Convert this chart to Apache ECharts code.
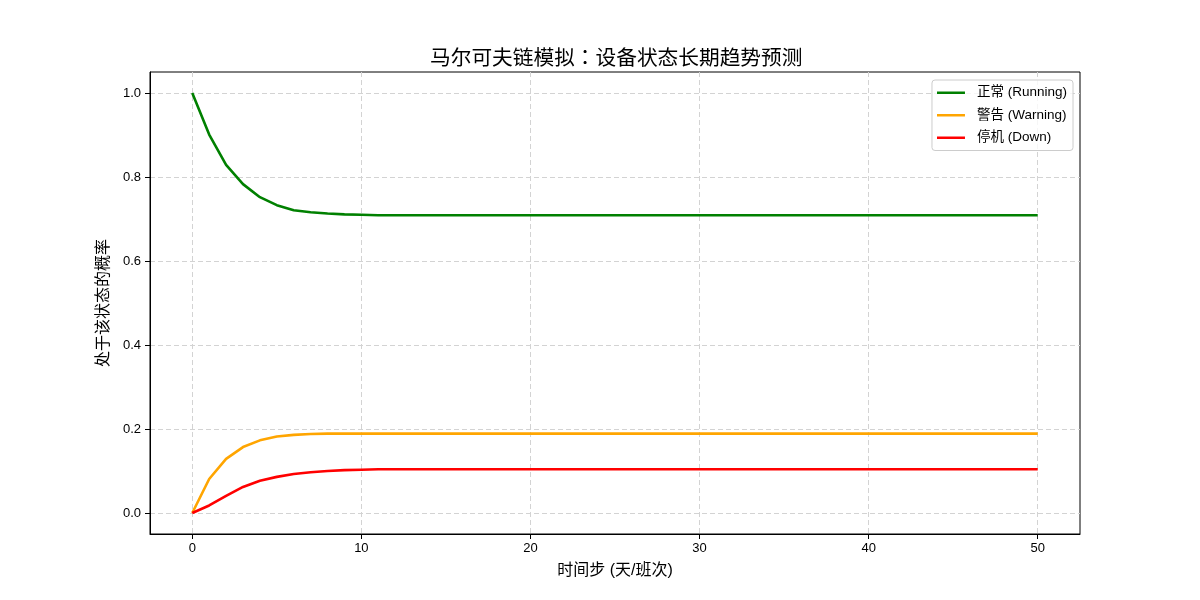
<!DOCTYPE html>
<html>
<head>
<meta charset="utf-8">
<script src="https://cdn.jsdelivr.net/npm/echarts@6/dist/echarts.min.js"></script>
<style>
html,body{margin:0;padding:0;background:#fff;}
#chart{width:1200px;height:600px;}
</style>
</head>
<body>
<div id="chart"></div>
<script>
const steps = [0,1,2,3,4,5,6,7,8,9,10,11,12,13,14,15,16,17,18,19,20,21,22,23,24,25,26,27,28,29,30,31,32,33,34,35,36,37,38,39,40,41,42,43,44,45,46,47,48,49,50];
const runningProb = [1.000,0.901,0.829,0.783,0.752,0.733,0.721,0.716,0.713,0.711,0.710,0.709,0.709,0.709,0.709,0.709,0.709,0.709,0.709,0.709,0.709,0.709,0.709,0.709,0.709,0.709,0.709,0.709,0.709,0.709,0.709,0.709,0.709,0.709,0.709,0.709,0.709,0.709,0.709,0.709,0.709,0.709,0.709,0.709,0.709,0.709,0.709,0.709,0.709,0.709,0.709];
const warningProb = [0.000,0.081,0.129,0.157,0.173,0.182,0.186,0.188,0.189,0.189,0.189,0.189,0.189,0.189,0.189,0.189,0.189,0.189,0.189,0.189,0.189,0.189,0.189,0.189,0.189,0.189,0.189,0.189,0.189,0.189,0.189,0.189,0.189,0.189,0.189,0.189,0.189,0.189,0.189,0.189,0.189,0.189,0.189,0.189,0.189,0.189,0.189,0.189,0.189,0.189,0.189];
const downProb = [0.000,0.018,0.041,0.062,0.077,0.086,0.093,0.097,0.100,0.102,0.103,0.104,0.104,0.104,0.104,0.104,0.104,0.104,0.104,0.104,0.104,0.104,0.104,0.104,0.104,0.104,0.104,0.104,0.104,0.104,0.104,0.104,0.104,0.104,0.104,0.104,0.104,0.104,0.104,0.104,0.104,0.104,0.104,0.104,0.104,0.104,0.104,0.104,0.104,0.104,0.104];
const xTicks = [0,10,20,30,40,50];
const yTicks = [0,0.2,0.4,0.6,0.8,1.0];
const seriesNames = ['正常 (Running)','警告 (Warning)','停机 (Down)'];
const titleText = '马尔可夫链模拟：设备状态长期趋势预测';
const xName = '时间步 (天/班次)';
const yName = '处于该状态的概率';

const FONT = "'Liberation Sans', 'Noto Sans CJK SC', sans-serif";
const TITLE_FONT = "'Noto Sans CJK TC', 'Noto Sans CJK SC', sans-serif";
const colors = ['#008000','#FFA500','#FF0000'];
const dataSets = [runningProb, warningProb, downProb];

const chart = echarts.init(document.getElementById('chart'));
const splitLine = {show:true, lineStyle:{color:'#d3d3d3', type:[5,3], width:1}};
chart.setOption({
  backgroundColor:'#fff',
  animation:false,
  textStyle:{fontFamily:FONT},
  title:{
    text:titleText, left:425, top:42,
    textStyle:{fontSize:20.7, fontWeight:'normal', color:'#000', fontFamily:TITLE_FONT}
  },
  legend:{
    orient:'vertical', right:127, top:80,
    data:seriesNames,
    icon:'rect', itemWidth:28, itemHeight:2.5, itemGap:9,
    padding:[6,6,6,5],
    backgroundColor:'rgba(255,255,255,0.8)',
    borderColor:'#cccccc', borderWidth:1, borderRadius:3,
    textStyle:{fontSize:13.5, color:'#000', fontFamily:FONT, padding:[0,0,0,7]}
  },
  grid:{left:150, right:120, top:72, bottom:66, show:true, borderColor:'#000', borderWidth:1, containLabel:false},
  xAxis:{
    type:'value', min:-2.5, max:52.5,
    name:xName, nameLocation:'middle', nameGap:29,
    nameTextStyle:{fontSize:16, color:'#000', fontFamily:FONT},
    axisLine:{show:true, onZero:false, lineStyle:{color:'#000', width:1}},
    axisTick:{show:true, inside:false, length:5, lineStyle:{color:'#000'}, customValues:xTicks},
    axisLabel:{show:true, margin:8, fontSize:13, color:'#000', customValues:xTicks, formatter:v=>String(v)},
    splitLine:splitLine
  },
  yAxis:{
    type:'value', min:-0.05, max:1.05,
    name:yName, nameLocation:'middle', nameGap:35, nameRotate:90,
    nameTextStyle:{fontSize:16, color:'#000', fontFamily:FONT},
    axisLine:{show:true, onZero:false, lineStyle:{color:'#000', width:1}},
    axisTick:{show:true, inside:false, length:5, lineStyle:{color:'#000'}, customValues:yTicks},
    axisLabel:{show:true, margin:9, fontSize:13, color:'#000', customValues:yTicks, formatter:v=>Number(v).toFixed(1)},
    splitLine:splitLine
  },
  series:seriesNames.map((n,i)=>({
    name:n, type:'line', symbol:'none', showSymbol:false,
    data:steps.map((s,k)=>[s, dataSets[i][k]]),
    lineStyle:{color:colors[i], width:2.6},
    itemStyle:{color:colors[i]},
    z:3+i
  }))
});
</script>
</body>
</html>
